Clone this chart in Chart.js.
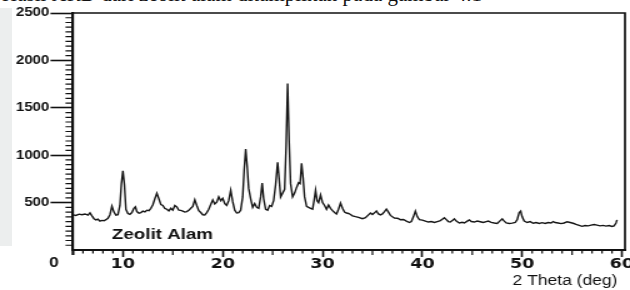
<!DOCTYPE html>
<html>
<head>
<meta charset="utf-8">
<script src="https://cdn.jsdelivr.net/npm/chart.js@4.4.1/dist/chart.umd.min.js"></script>
<style>
  body { margin: 0; width: 630px; height: 290px; overflow: hidden; background: #fff; position: relative; }
  #franja { position: absolute; left: 0; top: 8px; width: 12px; height: 238px; background: #eceeee; }
  #textoArriba { position: absolute; left: 2px; top: -18px; font: 21px "Liberation Serif", serif; color: #111; white-space: nowrap; }
  #contenedorChart { position: absolute; left: 0; top: 0; width: 504px; height: 290px; transform: scaleX(1.25); transform-origin: 0 0; }
</style>
</head>
<body>
<div id="franja"></div>
<div id="textoArriba">Hasil XRD dari zeolit alam ditampilkan pada gambar 4.1</div>
<div id="contenedorChart"><canvas id="myChart" width="504" height="290"></canvas></div>
<script>
//CONSTANTES
const twoTheta = [
  5.0, 5.3, 5.6, 5.9, 6.2, 6.5, 6.7, 6.9, 7.1, 7.3, 7.5, 7.7, 7.9,
  8.1, 8.3, 8.5, 8.7, 8.9, 9.1, 9.3, 9.5, 9.7, 9.85, 10.0, 10.15, 10.3,
  10.5, 10.7, 10.9, 11.1, 11.25, 11.4, 11.6, 11.8, 12.0, 12.2, 12.4, 12.6, 12.8,
  13.0, 13.2, 13.4, 13.6, 13.8, 14.0, 14.2, 14.4, 14.6, 14.8, 15.0, 15.2, 15.4,
  15.6, 15.8, 16.0, 16.2, 16.4, 16.6, 16.8, 17.0, 17.2, 17.4, 17.6, 17.8, 18.0,
  18.2, 18.4, 18.6, 18.8, 19.0, 19.2, 19.4, 19.6, 19.8, 20.0, 20.2, 20.4, 20.6,
  20.8, 21.0, 21.2, 21.4, 21.6, 21.8, 22.0, 22.15, 22.3, 22.45, 22.6, 22.8, 23.0,
  23.2, 23.4, 23.6, 23.8, 23.95, 24.1, 24.3, 24.5, 24.7, 24.9, 25.1, 25.3, 25.5, 25.65,
  25.8, 26.0, 26.2, 26.35, 26.5, 26.65, 26.8, 27.0, 27.2, 27.4, 27.6, 27.75, 27.9, 28.05,
  28.2, 28.4, 28.6, 28.8, 29.0, 29.15, 29.3, 29.45, 29.6, 29.8, 30.0, 30.2, 30.4, 30.6, 30.8,
  31.0, 31.2, 31.4, 31.6, 31.8, 32.0, 32.2, 32.4, 32.6, 32.8, 33.0, 33.3, 33.6, 34.0,
  34.3, 34.6, 34.8, 35.0, 35.2, 35.4, 35.6, 35.8, 36.0, 36.2, 36.4, 36.6, 36.8, 37.0, 37.2,
  37.5, 37.8, 38.1, 38.4, 38.7, 38.9, 39.1, 39.3, 39.5, 39.7, 40.0, 40.3, 40.6,
  40.9, 41.2, 41.5, 41.8, 42.0, 42.2, 42.4, 42.6, 42.8, 43.0, 43.2, 43.4, 43.7, 44.0,
  44.2, 44.5, 44.7, 44.9, 45.2, 45.5, 45.8, 46.1, 46.4, 46.6, 46.9, 47.2, 47.5, 47.8,
  48.0, 48.2, 48.4, 48.7, 49.0, 49.3, 49.5, 49.7, 49.85, 50.0, 50.2, 50.5, 50.8,
  51.1, 51.4, 51.7, 52.0, 52.3, 52.6, 52.9, 53.1, 53.3, 53.6, 53.9, 54.2, 54.5, 54.8,
  55.1, 55.4, 55.7, 56.0, 56.3, 56.6, 56.9, 57.2, 57.5, 57.8, 58.1, 58.4, 58.7, 59.0, 59.2, 59.4, 59.5
];
const intensidad = [
  370, 365, 378, 372, 380, 368, 392, 360, 330, 318, 325, 305, 312,
  308, 320, 335, 372, 462, 400, 368, 372, 470, 700, 835, 690, 430,
  385, 375, 395, 440, 455, 405, 388, 395, 410, 402, 420, 415, 440,
  478, 540, 598, 540, 480, 470, 438, 430, 412, 440, 420, 470, 455,
  420, 418, 410, 400, 405, 418, 440, 460, 530, 470, 415, 395, 372,
  370, 395, 430, 480, 528, 485, 505, 560, 520, 545, 490, 470, 520,
  630, 510, 420, 390, 395, 420, 560, 850, 1065, 880, 650, 540, 450,
  490, 450, 440, 560, 705, 540, 430, 420, 470, 460, 520, 690, 925, 750,
  560, 600, 640, 1100, 1755, 1150, 700, 560, 600, 660, 710, 700, 915, 760,
  560, 460, 450, 440, 430, 520, 630, 520, 500, 580, 500, 470, 430, 475, 440,
  415, 395, 380, 430, 495, 440, 400, 390, 385, 375, 360, 352, 345, 330,
  340, 370, 390, 375, 392, 412, 380, 370, 380, 405, 432, 400, 365, 350, 338,
  335, 320, 322, 305, 290, 300, 350, 410, 350, 320, 315, 305, 295,
  300, 290, 300, 310, 325, 340, 320, 300, 295, 310, 328, 305, 285, 292,
  285, 305, 318, 300, 295, 305, 298, 290, 300, 305, 292, 285, 280, 310,
  328, 305, 285, 280, 283, 290, 320, 395, 410, 350, 305, 290, 300,
  282, 290, 280, 288, 280, 290, 285, 300, 290, 285, 278, 285, 298, 290,
  282, 270, 260, 250, 258, 255, 262, 268, 262, 255, 260, 252, 258, 248, 255, 285, 318
];
const xTicks = [10, 20, 30, 40, 50, 60];
const yTicks = [0, 500, 1000, 1500, 2000, 2500];
const etiquetaMuestra = "Zeolit Alam";
const tituloX = "2 Theta (deg)";

//FUNCIONES
// ticks menores y marco del grafico
const marcoPlugin = {
  id: "marco",
  afterDraw(chart) {
    const { ctx, chartArea: a, scales } = chart;
    const x = scales.x;
    const y = scales.y;
    ctx.save();
    ctx.strokeStyle = "#111";
    ctx.lineWidth = 1.2;
    ctx.beginPath();
    for (let v = 6; v <= 60; v++) {
      if (v % 10 === 0) continue;
      const px = x.getPixelForValue(v);
      const largo = v % 5 === 0 ? 5 : 3.5;
      ctx.moveTo(px, a.bottom);
      ctx.lineTo(px, a.bottom + largo);
    }
    for (let v = 50; v < 2500; v += 50) {
      if (v % 500 === 0) continue;
      const py = y.getPixelForValue(v);
      ctx.moveTo(a.left - 6, py);
      ctx.lineTo(a.left, py);
    }
    ctx.stroke();

    ctx.lineWidth = 1.7;
    ctx.beginPath();
    ctx.moveTo(a.left, a.top);
    ctx.lineTo(a.right, a.top);
    ctx.lineTo(a.right, a.bottom);
    ctx.stroke();
    ctx.lineWidth = 2.2;
    ctx.beginPath();
    ctx.moveTo(a.left, a.bottom);
    ctx.lineTo(a.left, a.bottom + 5);
    ctx.stroke();

    ctx.fillStyle = "#111";
    ctx.textBaseline = "middle";
    ctx.font = "bold 15px 'Liberation Sans', Arial, sans-serif";
    ctx.textAlign = "left";
    ctx.fillText(etiquetaMuestra, 89.6, 235);
    ctx.font = "bold 14px 'Liberation Sans', Arial, sans-serif";
    ctx.textAlign = "center";
    ctx.fillText("0", 43.2, 263);
    ctx.font = "14px 'Liberation Sans', Arial, sans-serif";
    ctx.textAlign = "right";
    ctx.fillText(tituloX, 494, 281);
    ctx.restore();
  },
};

const puntos = twoTheta.map((t, i) => ({ x: t, y: intensidad[i] }));

const data = {
  datasets: [
    {
      label: etiquetaMuestra,
      data: puntos,
      borderColor: "#161616",
      borderWidth: 1.4,
      pointRadius: 0,
      tension: 0,
      fill: false,
    },
  ],
};

const config = {
  type: "line",
  data: data,
  plugins: [marcoPlugin],
  options: {
    responsive: false,
    animation: false,
    layout: { padding: { left: 0, right: 4, top: 13, bottom: 0 } },
    plugins: {
      legend: { display: false },
      tooltip: { enabled: false },
    },
    scales: {
      x: {
        type: "linear",
        min: 5,
        max: 60.3,
        afterBuildTicks: (scale) => {
          scale.ticks = xTicks.map((v) => ({ value: v }));
        },
        afterFit: (scale) => {
          scale.height = 40;
          scale.paddingLeft = 0;
          scale.paddingRight = 0;
        },
        border: { display: true, color: "#111", width: 2 },
        grid: {
          drawOnChartArea: false,
          drawTicks: true,
          tickLength: 7,
          tickWidth: 1.6,
          tickColor: "#111",
        },
        ticks: {
          padding: -1,
          color: "#111",
          maxRotation: 0,
          autoSkip: false,
          font: { family: "'DejaVu Sans', sans-serif", weight: "bold", size: 14 },
        },
      },
      y: {
        min: 0,
        max: 2500,
        afterBuildTicks: (scale) => {
          scale.ticks = yTicks.map((v) => ({ value: v }));
        },
        afterFit: (scale) => {
          scale.width = 58.4;
          scale.paddingTop = 0;
          scale.paddingBottom = 0;
        },
        border: { display: true, color: "#111", width: 2.2 },
        grid: {
          drawOnChartArea: false,
          drawTicks: true,
          tickLength: 18,
          tickWidth: 1.6,
          tickColor: (ctx) => (ctx.tick && ctx.tick.value === 0 ? "rgba(0,0,0,0)" : "#111"),
        },
        ticks: {
          padding: 1,
          color: "#111",
          font: { family: "'Liberation Sans', Arial, sans-serif", weight: "bold", size: 12 },
          callback: (v) => (v === 0 ? "" : v),
        },
      },
    },
  },
};

//EVENTOS
const myChart = new Chart(document.getElementById("myChart"), config);
</script>
</body>
</html>
